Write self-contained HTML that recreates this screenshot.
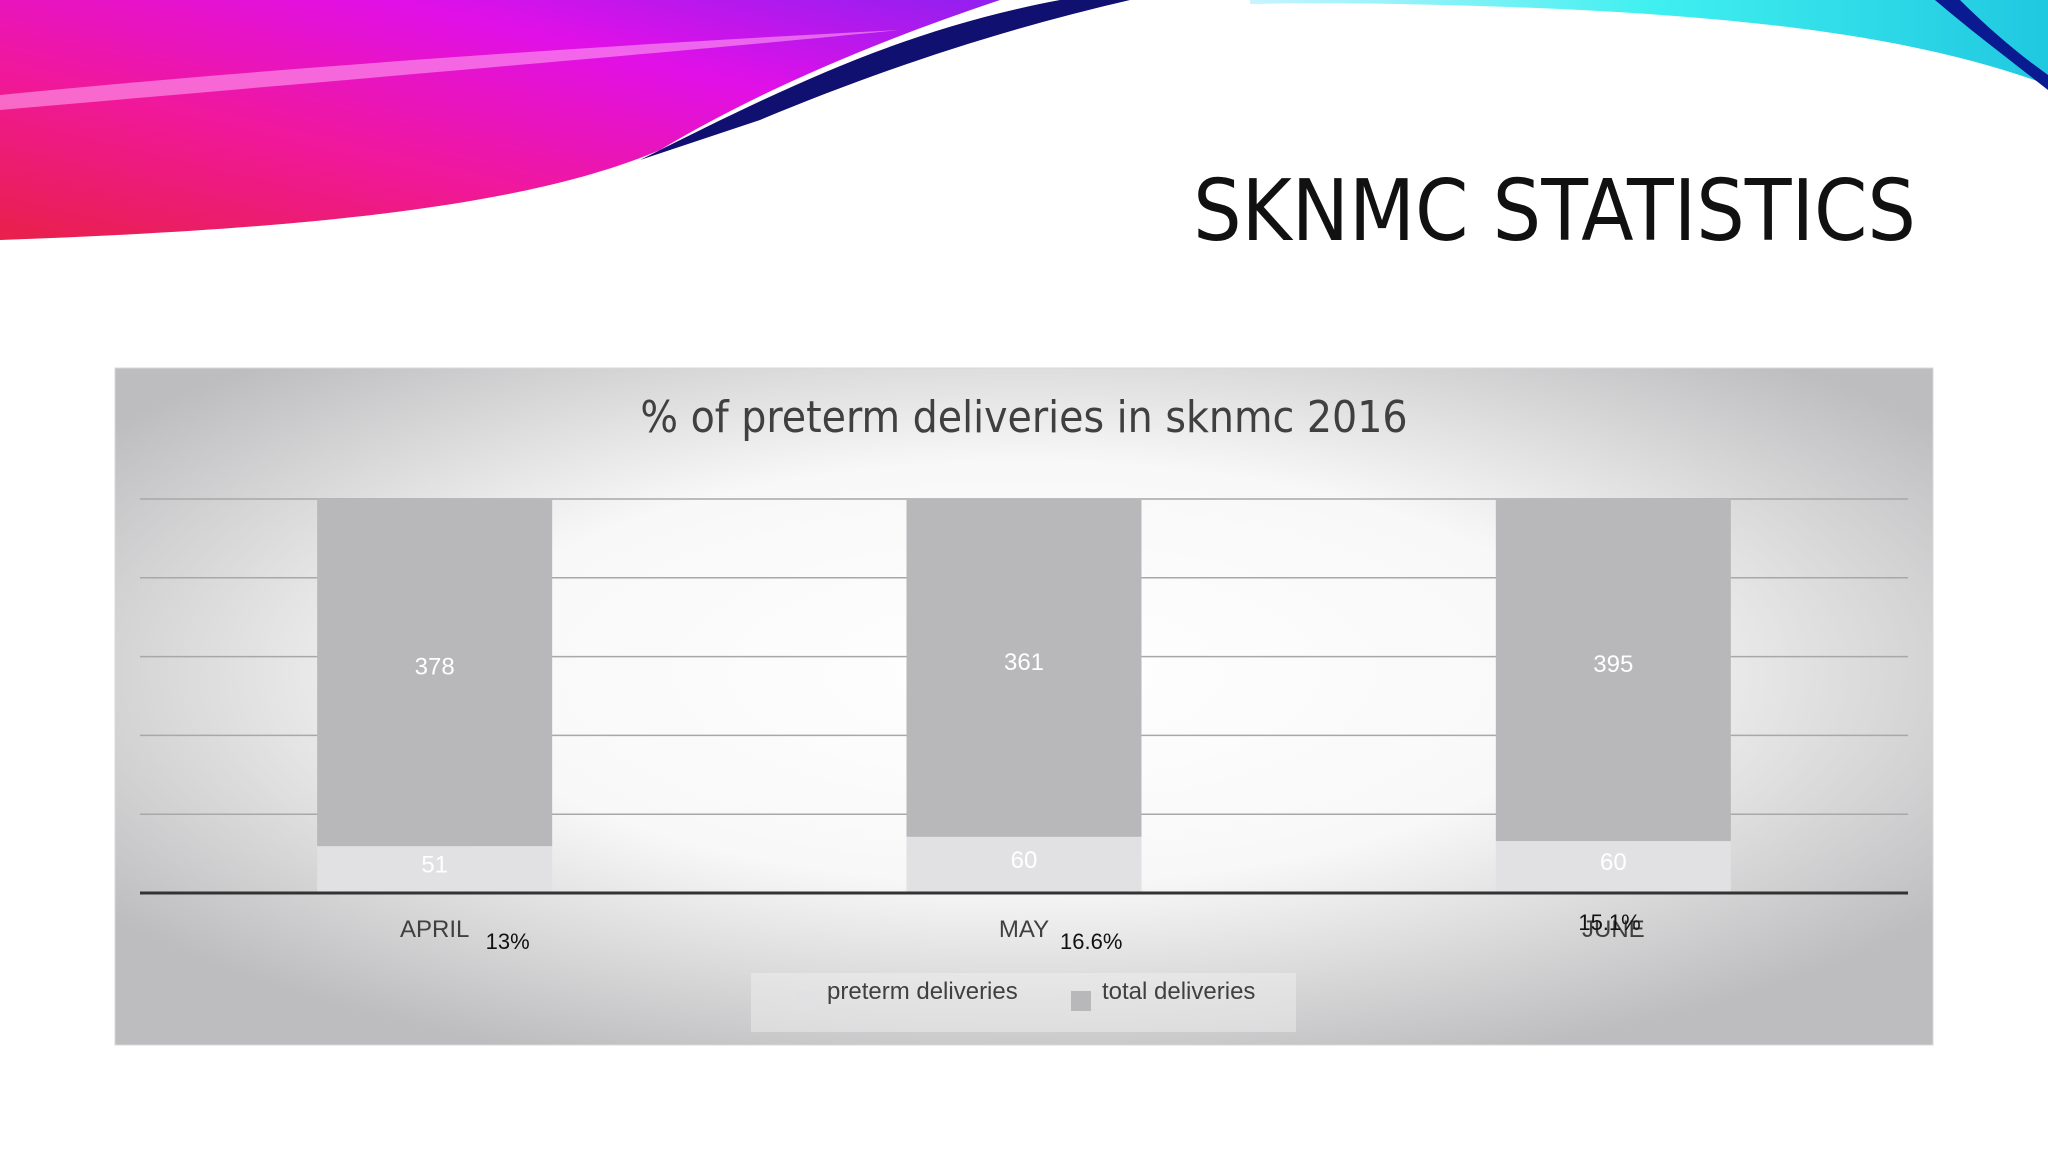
<!DOCTYPE html>
<html><head><meta charset="utf-8">
<style>
html,body{margin:0;padding:0;width:2048px;height:1152px;overflow:hidden;background:#fff;font-family:"Liberation Sans",sans-serif;}
#deco{position:absolute;left:0;top:0}
#slide-title{position:absolute;right:132px;top:162px;font-size:85px;letter-spacing:0px;color:#111;font-family:"DejaVu Sans Condensed","Liberation Sans Narrow","Liberation Sans",sans-serif;white-space:nowrap;}
#chart{position:absolute;left:0;top:0}
</style></head>
<body>
<svg id="deco" width="2048" height="260">
<defs>
<linearGradient id="pg" x1="0" y1="1" x2="1" y2="0">
<stop offset="0" stop-color="#e8204a"/><stop offset="0.35" stop-color="#f0189a"/><stop offset="0.7" stop-color="#e010e8"/><stop offset="1" stop-color="#9020f0"/></linearGradient>
<linearGradient id="cg" x1="0" y1="0" x2="1" y2="0">
<stop offset="0" stop-color="#c8f4ff"/><stop offset="0.5" stop-color="#40f0f0"/><stop offset="1" stop-color="#20c8e0"/></linearGradient>
</defs>
<path d="M0,0 L1000,0 C880,40 760,90 660,150 C520,210 280,230 0,240 Z" fill="url(#pg)"/>
<path d="M0,95 C250,70 600,45 900,30 C700,50 400,75 0,110 Z" fill="#ff9ff0" opacity="0.6"/>
<path d="M640,160 C780,90 900,30 1060,0 L1130,0 C1000,30 880,70 760,120 Z" fill="#101070"/>
<path d="M1250,0 L2048,0 L2048,85 C1900,30 1700,10 1400,4 C1330,3 1290,3 1250,4 Z" fill="url(#cg)"/>
<path d="M1935,0 L1960,0 C1990,30 2020,55 2048,75 L2048,90 C2010,60 1970,30 1935,0 Z" fill="#0a1a90"/>
</svg>
<div id="slide-title">SKNMC STATISTICS</div>
<svg id="chart" width="2048" height="1152"></svg>
<script>
const categories=["APRIL","MAY","JUNE"];
const preterm=[51,60,60];
const total=[378,361,395];
const pctLabels=["13%","16.6%","15.1%"];
const yTicks=[0,20,40,60,80,100];

const NS="http://www.w3.org/2000/svg";
const svg=document.getElementById('chart');
function mk(tag,attrs,parent){const e=document.createElementNS(NS,tag);for(const k in attrs)e.setAttribute(k,attrs[k]);(parent||svg).appendChild(e);return e;}
const defs=mk('defs',{});
const rg=mk('radialGradient',{id:'bg',cx:'0.5',cy:'0.45',r:'0.62'},defs);
mk('stop',{offset:'0',"stop-color":'#ffffff'},rg);
mk('stop',{offset:'0.5',"stop-color":'#f8f8f8'},rg);
mk('stop',{offset:'1',"stop-color":'#bdbdbf'},rg);
const box=mk('rect',{x:115,y:368,width:1818,height:677,fill:'url(#bg)',stroke:'#d8d8d8'});



const plotL=140,plotR=1908,plotT=499,plotB=893;
const y=v=>plotB-(v/100)*(plotB-plotT);
const step=(plotR-plotL)/categories.length;
const barW=235;
const xc=i=>plotL+step*(i+0.5);

yTicks.forEach(t=>{if(t===0)return;const g=mk('line',{x1:plotL,x2:plotR,y1:y(t),y2:y(t),stroke:'#a8a8a8','stroke-width':1.5});

});

const title=mk('text',{x:1024,y:432,'text-anchor':'middle','font-size':44,fill:'#404040','font-family':'"DejaVu Sans Condensed","Liberation Sans",sans-serif'});
title.textContent='% of preterm deliveries in sknmc 2016';



categories.forEach((c,i)=>{
  const sum=preterm[i]+total[i];
  const pp=preterm[i]/sum*100;
  const x0=xc(i)-barW/2;
  const b1=mk('rect',{x:x0,y:y(pp),width:barW,height:y(0)-y(pp),fill:'#e1e0e2'});
  
  
  const b2=mk('rect',{x:x0,y:y(100),width:barW,height:y(pp)-y(100),fill:'#b8b7b9'});
  
  
  const t1=mk('text',{x:xc(i),y:(y(pp)+y(0))/2+3,'text-anchor':'middle','font-size':24,fill:'#ffffff'});
  t1.textContent=preterm[i];
  
  
  const t2=mk('text',{x:xc(i),y:(y(pp)+y(100))/2+2,'text-anchor':'middle','font-size':24,fill:'#ffffff'});
  t2.textContent=total[i];
  
  
  const cl=mk('text',{x:xc(i),y:937,'text-anchor':'middle','font-size':24,fill:'#404040'});
  cl.textContent=c;
  
  
  const pl=mk('text',{x:i===2?xc(i)-35:xc(i)+(i===0?51:36),y:i===2?930:949,'font-size':22,fill:'#111'});
  pl.textContent=pctLabels[i];
  
  
});
const ax=mk('line',{x1:plotL,x2:plotR,y1:plotB,y2:plotB,stroke:'#333',"stroke-width":3});



const lg=mk('rect',{x:751,y:973,width:545,height:59,fill:'#f2f2f2',opacity:0.45});


const s1=mk('rect',{x:796,y:991,width:20,height:20,fill:'#e1e0e2'});


const l1=mk('text',{x:827,y:999,'font-size':24,fill:'#404040'});l1.textContent='preterm deliveries';


const s2=mk('rect',{x:1071,y:991,width:20,height:20,fill:'#b8b7b9'});


const l2=mk('text',{x:1102,y:999,'font-size':24,fill:'#404040'});l2.textContent='total deliveries';


</script>
</body></html>
